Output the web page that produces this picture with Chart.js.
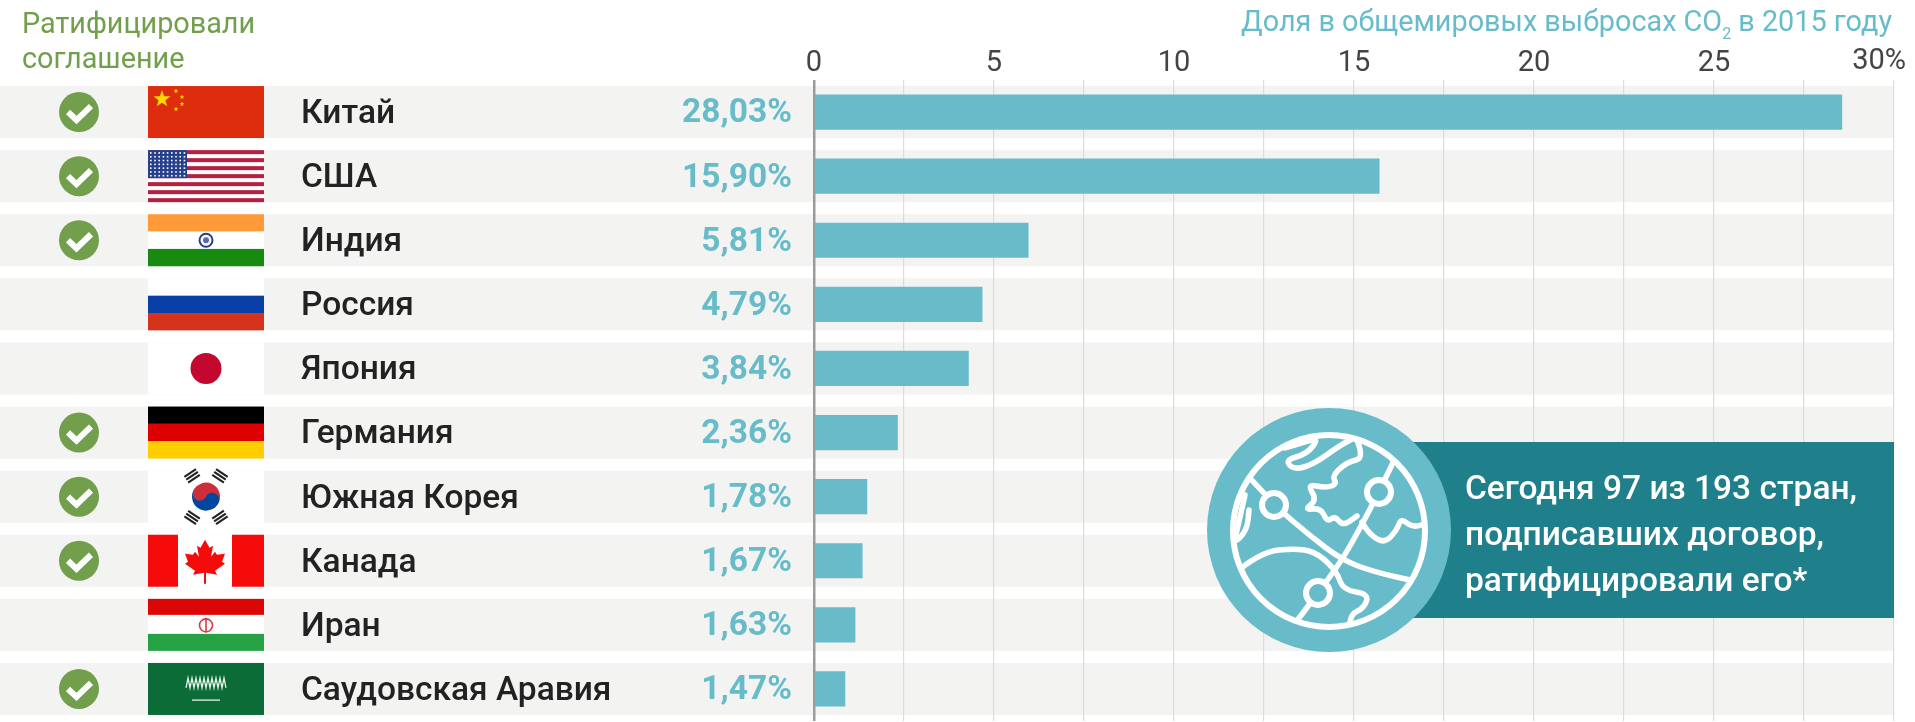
<!DOCTYPE html>
<html lang="ru">
<head>
<meta charset="utf-8">
<title>Доля в общемировых выбросах CO2</title>
<script src="https://cdn.jsdelivr.net/npm/chart.js@4/dist/chart.umd.min.js"></script>
<style>
  html, body { margin: 0; padding: 0; background: #fff; }
  canvas { display: block; }
</style>
</head>
<body>
<canvas id="chart" width="1915" height="722"></canvas>
<script>
'use strict';

const countries = ['Китай', 'США', 'Индия', 'Россия', 'Япония', 'Германия', 'Южная Корея', 'Канада', 'Иран', 'Саудовская Аравия'];
// bar lengths as drawn in the picture (they differ a little from the printed labels)
const barValues = [28.55, 15.7, 5.95, 4.67, 4.29, 2.32, 1.47, 1.34, 1.14, 0.86];
const shareLabels = ['28,03%', '15,90%', '5,81%', '4,79%', '3,84%', '2,36%', '1,78%', '1,67%', '1,63%', '1,47%'];
const ratified = [true, true, true, false, false, true, true, true, false, true];
const flagCodes = ['cn', 'us', 'in', 'ru', 'jp', 'de', 'kr', 'ca', 'ir', 'sa'];
const tickLabels = { 0: '0', 5: '5', 10: '10', 15: '15', 20: '20', 25: '25' };
const lastTickLabel = '30%';
const headerLeft = ['Ратифицировали', 'соглашение'];
const calloutLines = ['Сегодня 97 из 193 стран,', 'подписавших договор,', 'ратифицировали его*'];

const TEAL = '#68bcca';
const GREEN = '#729f4b';
const DARK_TEAL = '#1f7f8a';
const FONT = 'Roboto, sans-serif';

function rect(c, col, x, y, w, h) { c.fillStyle = col; c.fillRect(x, y, w, h); }

function circle(c, col, x, y, r) {
  c.fillStyle = col;
  c.beginPath(); c.arc(x, y, r, 0, Math.PI * 2); c.fill();
}

function star(c, col, x, y, r) {
  c.fillStyle = col;
  c.beginPath();
  for (let i = 0; i < 10; i++) {
    const a = -Math.PI / 2 + i * Math.PI / 5, q = i % 2 ? r * 0.4 : r;
    c.lineTo(x + q * Math.cos(a), y + q * Math.sin(a));
  }
  c.closePath(); c.fill();
}

// each flag draws into a box x..x+w, y..y+h
const flags = {
  cn(c, x, y, w, h) {
    rect(c, '#de2d0e', x, y, w, h);
    star(c, '#ffd800', x + 14, y + 13, 9);
    [[28, 5], [34, 11], [34, 18], [28, 23]].forEach(p => star(c, '#ffd800', x + p[0], y + p[1], 2.6));
  },
  us(c, x, y, w, h) {
    rect(c, '#fff', x, y, w, h);
    for (let i = 0; i < 13; i += 2) rect(c, '#b5203f', x, y + i * h / 13, w, h / 13);
    rect(c, '#27408b', x, y, 39, h * 7 / 13);
    for (let r = 0; r < 7; r++) {
      for (let k = 0; k < 9; k++) rect(c, '#fff', x + 2 + k * 4.2, y + 2 + r * 3.8, 1.6, 1.6);
    }
  },
  in(c, x, y, w, h) {
    rect(c, '#ff9a38', x, y, w, h / 3);
    rect(c, '#fff', x, y + h / 3, w, h / 3);
    rect(c, '#178a12', x, y + h * 2 / 3, w, h / 3);
    c.strokeStyle = '#2b3a8c'; c.lineWidth = 2;
    c.beginPath(); c.arc(x + w / 2, y + h / 2, 6.5, 0, Math.PI * 2); c.stroke();
    circle(c, '#5a68b0', x + w / 2, y + h / 2, 3);
  },
  ru(c, x, y, w, h) {
    rect(c, '#fff', x, y, w, h / 3);
    rect(c, '#0a3fa8', x, y + h / 3, w, h / 3);
    rect(c, '#d5321c', x, y + h * 2 / 3, w, h / 3);
  },
  jp(c, x, y, w, h) {
    rect(c, '#fff', x, y, w, h);
    circle(c, '#c4072f', x + w / 2, y + h / 2, 15.5);
  },
  de(c, x, y, w, h) {
    rect(c, '#000', x, y, w, h / 3);
    rect(c, '#dd0000', x, y + h / 3, w, h / 3);
    rect(c, '#ffce00', x, y + h * 2 / 3, w, h / 3);
  },
  kr(c, x, y, w, h) {
    rect(c, '#fff', x, y, w, h);
    const cx = x + w / 2, cy = y + h / 2, r = 14;
    c.save();
    c.translate(cx, cy); c.rotate(0.45);
    c.fillStyle = '#cd2e3a';
    c.beginPath(); c.arc(0, 0, r, Math.PI, 0); c.fill();
    c.fillStyle = '#0047a0';
    c.beginPath(); c.arc(0, 0, r, 0, Math.PI); c.fill();
    circle(c, '#cd2e3a', -r / 2, 0, r / 2);
    circle(c, '#0047a0', r / 2, 0, r / 2);
    c.restore();
    [-0.98, -2.16, 0.98, 2.16].forEach(a => {
      c.save();
      c.translate(cx, cy); c.rotate(a);
      c.translate(25, 0);
      for (let i = -1; i <= 1; i++) rect(c, '#222', i * 3.4 - 1, -7, 2.1, 14);
      c.restore();
    });
  },
  ca(c, x, y, w, h) {
    rect(c, '#fff', x, y, w, h);
    rect(c, '#f60b0b', x, y, 30, h);
    rect(c, '#f60b0b', x + w - 32, y, 32, h);
    const leaf = [[0, -21], [-4.5, -13], [-8, -15], [-6, -4], [-10, -9], [-12, -6], [-20, -7], [-17, 1], [-20, 3], [-10, 10], [-12, 14], [-1, 12], [-1, 23], [1, 23], [1, 12], [12, 14], [10, 10], [20, 3], [17, 1], [20, -7], [12, -6], [10, -9], [6, -4], [8, -15], [4.5, -13]];
    c.fillStyle = '#f60b0b';
    c.beginPath();
    leaf.forEach(p => c.lineTo(x + 57 + p[0], y + h / 2 + p[1]));
    c.closePath(); c.fill();
  },
  ir(c, x, y, w, h) {
    rect(c, '#fff', x, y, w, h);
    rect(c, '#dc0606', x, y, w, 16);
    rect(c, '#26a244', x, y + 35, w, 17);
    c.strokeStyle = '#d83a4a'; c.lineWidth = 1.6;
    c.beginPath(); c.ellipse(x + w / 2, y + 26.5, 6.5, 6.5, 0, 0, Math.PI * 2); c.stroke();
    c.beginPath(); c.moveTo(x + w / 2, y + 19); c.lineTo(x + w / 2, y + 33); c.stroke();
  },
  sa(c, x, y, w, h) {
    rect(c, '#0c6c38', x, y, w, h);
    const cx = x + w / 2, cy = y + h / 2;
    c.strokeStyle = '#e6f0e8'; c.lineWidth = 1.3;
    c.beginPath();
    for (let i = 0; i <= 20; i++) c.lineTo(cx - 20 + i * 2, cy - 6 + (i % 2 ? -5 : 5));
    c.stroke();
    rect(c, '#e6f0e8', cx - 14, cy + 10.5, 28, 1.3);
  }
};

function drawCheck(c, x, y) {
  circle(c, GREEN, x, y, 20);
  c.strokeStyle = '#fff'; c.lineWidth = 6; c.lineJoin = 'miter';
  c.beginPath();
  c.moveTo(x - 11, y); c.lineTo(x - 2.5, y + 8); c.lineTo(x + 12, y - 6);
  c.stroke();
}

// row backgrounds sit behind the grid
const rowBands = {
  id: 'rowBands',
  beforeDraw(chart) {
    const c = chart.ctx, y = chart.scales.y, x = chart.scales.x;
    c.save();
    countries.forEach((n, i) => rect(c, '#f3f3f2', 0, y.getPixelForValue(i) - 26, x.getPixelForValue(30), 52));
    c.restore();
  }
};

function smoothLine(c, pts) {
  c.beginPath();
  c.moveTo(pts[0][0], pts[0][1]);
  for (let i = 1; i < pts.length - 1; i++) {
    const mx = (pts[i][0] + pts[i + 1][0]) / 2, my = (pts[i][1] + pts[i + 1][1]) / 2;
    c.quadraticCurveTo(pts[i][0], pts[i][1], mx, my);
  }
  const last = pts[pts.length - 1];
  c.lineTo(last[0], last[1]);
  c.stroke();
}

function drawGlobe(c) {
  const cx = 1329, cy = 530;
  c.save();
  c.fillStyle = DARK_TEAL;
  c.fillRect(cx, 442, 1894 - cx, 176);
  c.fillStyle = TEAL;
  c.beginPath(); c.arc(cx, cy, 122, 0, Math.PI * 2); c.fill();

  c.translate(cx, cy);
  c.strokeStyle = '#fff'; c.lineWidth = 6; c.lineJoin = 'round'; c.lineCap = 'round';
  c.beginPath(); c.arc(0, 1, 96, 0, Math.PI * 2); c.stroke();
  c.save();
  c.beginPath(); c.arc(0, 1, 96, 0, Math.PI * 2); c.clip();
  c.lineWidth = 5.5;
  const lines = [
    [[-90, -64], [-55, -25], [-20, 5], [13, 30], [45, 42], [90, 52]],
    [[70, -80], [50, -38], [30, 0], [13, 30], [-11, 63], [-36, 96]],
    [[-44, -82], [-25, -88], [-10, -92], [-22, -76], [-44, -70], [-35, -60], [-15, -66], [10, -84], [25, -92]],
    [[27, -92], [36, -72], [18, -68], [3, -54], [8, -46], [-3, -42], [-22, -46], [-12, -30], [-25, -20], [-8, -22], [-2, -8], [6, -14], [14, -4], [28, -14]],
    [[33, -8], [38, 2], [55, 14], [68, 0], [72, -12], [84, -2], [100, -8]],
    [[-84, -35], [-92, 0], [-95, 14], [-82, 0], [-80, -20]],
    [[-96, 45], [-70, 22], [-30, 18], [-10, 24], [8, 42], [14, 60], [40, 64], [35, 78], [22, 84], [20, 100]],
    [[-82, 66], [-60, 75], [-44, 88], [-44, 100]]
  ];
  lines.forEach(l => smoothLine(c, l));
  c.restore();
  [[-55, -25], [50, -38], [-11, 63]].forEach(p => {
    circle(c, TEAL, p[0], p[1], 12);
    c.lineWidth = 6;
    c.beginPath(); c.arc(p[0], p[1], 12, 0, Math.PI * 2); c.stroke();
  });
  c.restore();
}

const decorations = {
  id: 'decorations',
  afterDraw(chart) {
    const c = chart.ctx, y = chart.scales.y, x = chart.scales.x;
    c.save();
    countries.forEach((n, i) => {
      const py = y.getPixelForValue(i);
      c.save();
      flags[flagCodes[i]](c, 148, py - 26, 116, 52);
      c.restore();
      if (ratified[i]) drawCheck(c, 79, py);
      c.fillStyle = TEAL;
      c.font = '700 33.5px ' + FONT;
      c.textAlign = 'right'; c.textBaseline = 'middle';
      c.fillText(shareLabels[i], 792, py + 2);
    });

    // headers
    c.textBaseline = 'middle'; c.textAlign = 'left';
    c.fillStyle = GREEN;
    c.font = '28.8px ' + FONT;
    c.fillText(headerLeft[0], 22, 26);
    c.fillText(headerLeft[1], 22, 61);

    c.fillStyle = TEAL;
    c.textAlign = 'right';
    c.font = '28.8px ' + FONT;
    c.fillText(' в 2015 году', 1892, 24);
    const tail = c.measureText(' в 2015 году').width;
    c.font = '16px ' + FONT;
    c.fillText('2', 1892 - tail, 35);
    const sub = c.measureText('2').width;
    c.font = '28.8px ' + FONT;
    c.fillText('Доля в общемировых выбросах CO', 1892 - tail - sub, 24);

    // the last tick is pulled inside the picture
    c.fillStyle = '#444';
    c.font = '29px ' + FONT;
    c.fillText(lastTickLabel, x.getPixelForValue(30) + 12, 62);

    drawGlobe(c);
    c.fillStyle = '#fff';
    c.textAlign = 'left';
    c.font = '500 33.5px ' + FONT;
    calloutLines.forEach((t, i) => c.fillText(t, 1465, 491 + i * 46));
    c.restore();
  }
};

new Chart(document.getElementById('chart'), {
  type: 'bar',
  data: {
    labels: countries,
    datasets: [{ data: barValues, backgroundColor: TEAL, barThickness: 34.5, borderWidth: 0 }]
  },
  plugins: [rowBands, decorations],
  options: {
    indexAxis: 'y',
    responsive: false,
    animation: false,
    layout: { padding: { left: 301, right: 21, top: 0, bottom: 1 } },
    plugins: { legend: { display: false }, tooltip: { enabled: false } },
    scales: {
      x: {
        position: 'top',
        min: 0,
        max: 30,
        afterFit: s => { s.height = 80; },
        border: { display: false },
        grid: {
          drawTicks: false,
          color: ctx => (ctx.tick && ctx.tick.value === 0 ? '#9b9b9b' : '#dcdcdc'),
          lineWidth: ctx => (ctx.tick && ctx.tick.value === 0 ? 2.5 : 1.2)
        },
        ticks: {
          stepSize: 2.5,
          autoSkip: false,
          maxRotation: 0,
          padding: -1,
          color: '#444',
          font: { family: 'Roboto', size: 29 },
          callback: v => tickLabels[v] || ''
        }
      },
      y: {
        afterFit: s => { s.width = 513; s.paddingTop = 0; s.paddingBottom = 0; },
        border: { display: false },
        grid: { display: false, drawTicks: false },
        ticks: {
          crossAlign: 'far',
          autoSkip: false,
          labelOffset: 2.5,
          color: '#222',
          font: { family: 'Roboto', size: 33.5, weight: '500' }
        }
      }
    }
  }
});
</script>
</body>
</html>
